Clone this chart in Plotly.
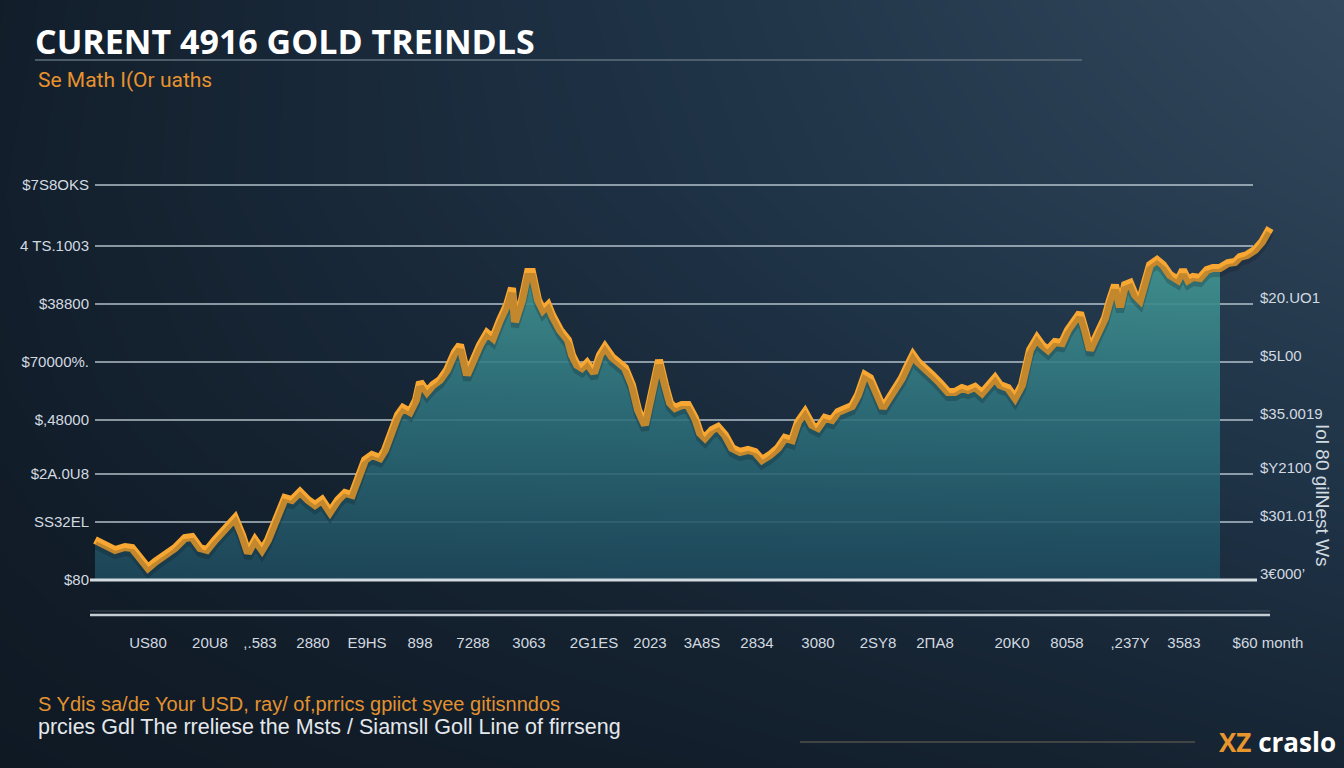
import plotly.graph_objects as go

# ---------------- data ----------------
day = [5, 15, 25, 35, 42, 50, 58, 65, 75, 85, 95, 102, 110, 117, 125, 135, 145, 152, 158, 165,
       172, 178, 188, 195, 202, 210, 218, 225, 232, 240, 248, 255, 262, 268, 275, 282, 290, 295,
       302, 308, 313, 320, 326, 330, 337, 343, 350, 357, 365, 370, 377, 383, 390, 397, 403, 410,
       417, 422, 425, 432, 438, 442, 448, 453, 458, 462, 470, 478, 482, 487, 492, 497, 504, 510,
       515, 522, 530, 535, 542, 548, 555, 562, 569, 575, 580, 585, 592, 598, 605, 610, 615, 622,
       628, 635, 642, 650, 658, 665, 672, 680, 688, 695, 702, 708, 715, 722, 728, 735, 742, 748,
       755, 762, 768, 775, 780, 787, 793, 798, 805, 812, 818, 823, 828, 835, 842, 850, 858, 865,
       872, 878, 885, 892, 898, 905, 910, 918, 925, 932, 940, 947, 952, 958, 965, 972, 978, 985,
       990, 995, 1000, 1007, 1015, 1020, 1025, 1030, 1035, 1040, 1045, 1050, 1055, 1060, 1067,
       1073, 1080, 1088, 1093, 1098, 1103, 1110, 1117, 1123, 1130, 1138, 1145, 1150, 1157, 1165,
       1172, 1178, 1180]
price = [1580, 1570, 1560, 1566, 1564, 1544, 1524, 1536, 1550, 1564, 1584, 1586, 1564, 1560, 1580,
         1604, 1624, 1590, 1554, 1580, 1560, 1580, 1630, 1664, 1660, 1676, 1660, 1650, 1660, 1636,
         1660, 1674, 1670, 1700, 1740, 1750, 1744, 1760, 1804, 1830, 1844, 1836, 1860, 1896, 1876,
         1890, 1900, 1920, 1956, 1970, 1910, 1940, 1970, 1994, 1984, 2020, 2050, 2084, 2016, 2060,
         2116, 2116, 2060, 2040, 2050, 2030, 2000, 1980, 1950, 1930, 1924, 1934, 1914, 1950, 1966,
         1946, 1930, 1924, 1890, 1840, 1810, 1870, 1940, 1890, 1854, 1844, 1850, 1850, 1824, 1794,
         1784, 1800, 1806, 1790, 1764, 1756, 1760, 1756, 1740, 1750, 1764, 1784, 1780, 1816, 1836,
         1810, 1804, 1824, 1820, 1836, 1844, 1848, 1870, 1910, 1904, 1870, 1844, 1860, 1880, 1904,
         1930, 1950, 1936, 1920, 1910, 1894, 1876, 1876, 1884, 1880, 1886, 1874, 1890, 1904, 1890,
         1884, 1864, 1890, 1960, 1984, 1970, 1960, 1976, 1974, 2000, 2024, 2034, 2000, 1960, 1990,
         2024, 2060, 2090, 2046, 2090, 2094, 2070, 2060, 2100, 2130, 2140, 2130, 2110, 2100, 2120,
         2100, 2106, 2104, 2120, 2124, 2124, 2134, 2136, 2146, 2150, 2160, 2176, 2196, 2204]

fill_end_day = 1130
base_price = 1500

grid_vals = [2290, 2168, 2052, 1936, 1820, 1712, 1616, 1500]
left_labels = ["$7S8OKS", "4 TS.1003", "$38800", "$70000%.", "$,48000", "$2A.0U8", "SS32EL", "$80"]

right_vals = [2052, 1936, 1820, 1712, 1616, 1500]
right_labels = ["$20.UO1", "$5L00", "$35.0019", "$Y2100", "$301.01", "3\u20ac000\u2019"]

x_ticks = [58, 120, 170, 223, 277, 330, 383, 439, 504, 560, 612, 667, 728, 788, 845, 922, 977,
           1040, 1094, 1178]
x_labels = ["US80", "20U8", ",.583", "2880", "E9HS", "898", "7288", "3063", "2G1ES", "2023",
            "3A8S", "2834", "3080", "2SY8", "2\u03a0A8", "20K0", "8058", ",237Y", "3583",
            "$60 month"]

# ---------------- figure ----------------
W, H = 1344, 768
X0, X1 = 90, 1275      # plot area in px
Y0, Y1 = 140, 620

def px(x):
    return x / W

def py(y):
    return 1 - y / H

fig = go.Figure()

# background gradient (full-page heatmap)
bg_z = [
    [0.02, 0.06, 0.10, 0.16, 0.24],
    [0.06, 0.14, 0.22, 0.32, 0.42],
    [0.10, 0.24, 0.36, 0.50, 0.62],
    [0.12, 0.30, 0.46, 0.66, 0.82],
    [0.10, 0.30, 0.50, 0.74, 0.98],
]
fig.add_trace(go.Heatmap(
    z=bg_z, x=[0, 1, 2, 3, 4], y=[0, 1, 2, 3, 4], zsmooth="best",
    colorscale=[[0, "#0f1924"], [0.5, "#1f3347"], [1, "#34485d"]],
    showscale=False, hoverinfo="skip", xaxis="x", yaxis="y"))

fill_x = [d for d in day if d <= fill_end_day]
fill_y = price[:len(fill_x)]

# baseline for fill
fig.add_trace(go.Scatter(
    x=fill_x, y=[base_price] * len(fill_x), mode="lines",
    line=dict(width=0, color="rgba(0,0,0,0)"), hoverinfo="skip", showlegend=False,
    xaxis="x2", yaxis="y2"))
fig.add_trace(go.Scatter(
    x=fill_x, y=fill_y, mode="lines", fill="tonexty",
    line=dict(width=0, color="rgba(0,0,0,0)"),
    fillgradient=dict(type="vertical", start=base_price, stop=2120,
                      colorscale=[[0, "rgba(30,74,94,0.88)"], [0.5, "rgba(44,110,122,0.88)"],
                                  [1, "rgba(64,146,144,0.92)"]]),
    hoverinfo="skip", showlegend=False, xaxis="x2", yaxis="y2"))

# soft shadow of the line
fig.add_trace(go.Scatter(
    x=day, y=price, mode="lines", line=dict(color="rgba(8,16,26,0.22)", width=8),
    hoverinfo="skip", showlegend=False, xaxis="x2", yaxis="y3"))

# gold line
fig.add_trace(go.Scatter(
    x=day, y=price, mode="lines", line=dict(color="#f8a832", width=8),
    showlegend=False, xaxis="x2", yaxis="y2"))

shapes = []
# gridlines
for v in grid_vals[:-1]:
    shapes.append(dict(type="line", xref="x2", yref="y2", x0=5, x1=1163, y0=v, y1=v,
                       line=dict(color="rgba(205,218,226,0.85)", width=1.6), layer="below"))
# baseline
shapes.append(dict(type="line", xref="x2", yref="y2", x0=0, x1=1167, y0=1500, y1=1500,
                   line=dict(color="#d3dbe0", width=3), layer="above"))
# bottom double line
shapes.append(dict(type="line", xref="paper", yref="paper", x0=px(90), x1=px(1270),
                   y0=py(615), y1=py(615), line=dict(color="#c3ccd2", width=2.5), layer="above"))
shapes.append(dict(type="line", xref="paper", yref="paper", x0=px(90), x1=px(1270),
                   y0=py(611), y1=py(611), line=dict(color="rgba(150,165,178,0.35)", width=1),
                   layer="above"))
# title underline
shapes.append(dict(type="line", xref="paper", yref="paper", x0=px(35), x1=px(1082),
                   y0=py(60), y1=py(60), line=dict(color="#5f6f7d", width=1.5), layer="above"))
# logo line
shapes.append(dict(type="line", xref="paper", yref="paper", x0=px(800), x1=px(1195),
                   y0=py(742), y1=py(742), line=dict(color="#6d6656", width=1.2), layer="above"))

annotations = []
annotations.append(dict(text="<b>CURENT 4916 GOLD TREINDLS</b>", x=px(33), y=py(41),
                        xref="paper", yref="paper", xanchor="left", yanchor="middle",
                        showarrow=False, font=dict(family="Open Sans", size=34, color="#ffffff")))
annotations.append(dict(text="Se Math I(Or uaths", x=px(36), y=py(80), xref="paper", yref="paper",
                        xanchor="left", yanchor="middle", showarrow=False,
                        font=dict(family="Roboto", size=21, color="#e8922e")))
for v, t in zip(right_vals, right_labels):
    annotations.append(dict(text=t, x=1168, y=v, xref="x2", yref="y2", xanchor="left",
                            yanchor="middle", yshift=7, showarrow=False,
                            font=dict(family="Liberation Sans", size=15, color="#d2dae0")))
annotations.append(dict(text="Iol 80 gilNest Ws", x=px(1323), y=py(495), xref="paper",
                        yref="paper", xanchor="center", yanchor="middle", textangle=90,
                        showarrow=False,
                        font=dict(family="Liberation Sans", size=19, color="#d2dae0")))
annotations.append(dict(text="S Ydis sa/de Your USD, ray/ of,prrics gpiict syee gitisnndos",
                        x=px(36), y=py(704), xref="paper", yref="paper", xanchor="left",
                        yanchor="middle", showarrow=False,
                        font=dict(family="Liberation Sans", size=20, color="#e2922f")))
annotations.append(dict(text="prcies Gdl The rreliese the Msts / Siamsll Goll Line of firrseng",
                        x=px(36), y=py(727), xref="paper", yref="paper", xanchor="left",
                        yanchor="middle", showarrow=False,
                        font=dict(family="Liberation Sans", size=21.5, color="#e4e8ec")))
annotations.append(dict(text="<b><span style='color:#e8952d'>XZ</span> craslo</b>",
                        x=px(1338), y=py(742), xref="paper", yref="paper", xanchor="right",
                        yanchor="middle", showarrow=False,
                        font=dict(family="Open Sans", size=26, color="#ffffff")))

dom_x = [X0 / W, X1 / W]
dom_y = [1 - Y1 / H, 1 - Y0 / H]
yr = [1420, 2380]

fig.update_layout(
    width=W, height=H, autosize=False,
    margin=dict(l=0, r=0, t=0, b=0, pad=0),
    paper_bgcolor="#15212e", plot_bgcolor="rgba(0,0,0,0)",
    showlegend=False,
    xaxis=dict(domain=[0, 1], range=[0, 4], visible=False, fixedrange=True, automargin=False),
    yaxis=dict(domain=[0, 1], range=[0, 4], visible=False, fixedrange=True, automargin=False),
    xaxis2=dict(domain=dom_x, range=[0, 1185], anchor="y2", showgrid=False, zeroline=False,
                showline=False, tickvals=x_ticks, ticktext=x_labels, ticks="outside",
                ticklen=9, tickcolor="rgba(0,0,0,0)", automargin=False,
                tickfont=dict(family="Liberation Sans", size=15, color="#d2dae0")),
    yaxis2=dict(domain=dom_y, range=yr, anchor="x2", showgrid=False, zeroline=False,
                showline=False, tickvals=grid_vals, ticktext=left_labels, ticks="",
                automargin=False,
                tickfont=dict(family="Liberation Sans", size=15, color="#d2dae0")),
    yaxis3=dict(domain=dom_y, range=[yr[0] + 10, yr[1] + 10], overlaying="y2", anchor="x2",
                visible=False, automargin=False),
    shapes=shapes,
    annotations=annotations,
)

post = ("document.documentElement.style.overflow='hidden';"
        "document.body.style.margin='0px';document.body.style.overflow='hidden';")

fig.write_html("out.html", config={"displayModeBar": False},
               default_width="1344px", default_height="768px", post_script=post)
